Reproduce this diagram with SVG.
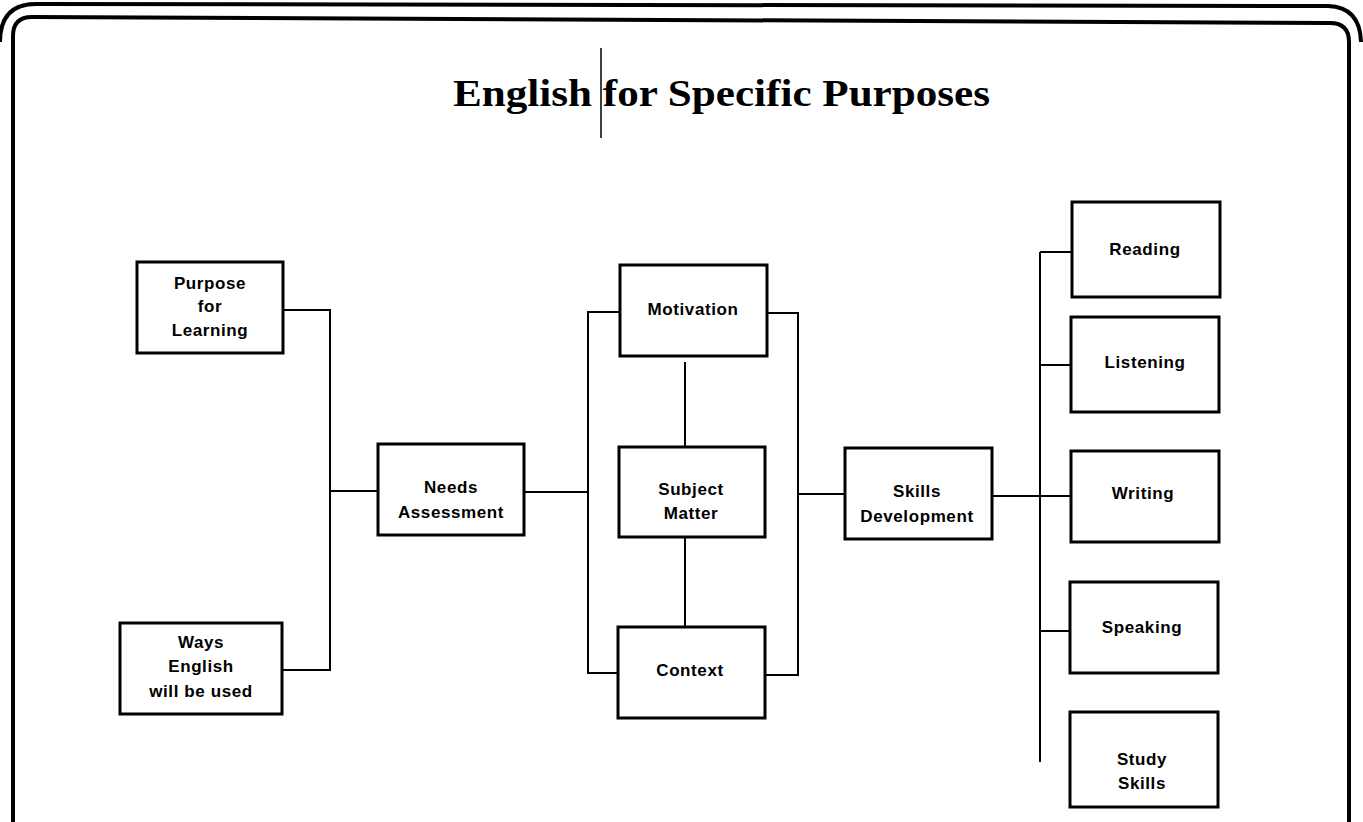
<svg xmlns="http://www.w3.org/2000/svg" width="1363" height="822" viewBox="0 0 1363 822">
<style>
.box{fill:#fff;stroke:#000;stroke-width:3}
.con{fill:none;stroke:#000;stroke-width:2}
.frame{fill:none;stroke:#000;stroke-width:4}
.lbl{font-family:"Liberation Sans",Arial,sans-serif;font-weight:bold;font-size:17px;letter-spacing:0.6px;text-anchor:middle;fill:#000}
.title{font-family:"Liberation Serif","Times New Roman",serif;font-weight:bold;font-size:38px;fill:#000}
</style>
<rect width="1363" height="822" fill="#fff"/>
<g id="frame">
<path class="frame" d="M0,42 Q0,4 36,4 L1328,6 Q1360,7 1361,42"/>
<path class="frame" d="M13,822 L13,36 Q13,17 32,17 L1330,23 Q1349,23 1349,42 L1349,822"/>
</g>
<g id="title">
<text class="title" x="453" y="106" textLength="537" lengthAdjust="spacingAndGlyphs">English for Specific Purposes</text>
<line x1="601" y1="48" x2="601" y2="138" stroke="#000" stroke-width="1.5"/>
</g>
<g id="connectors">
<path class="con" d="M283,310 H330 V670 H282"/>
<path class="con" d="M330,491 H378"/>
<path class="con" d="M524,492 H588"/>
<path class="con" d="M620,312 H588 V673 H618"/>
<path class="con" d="M767,313 H798 V675 H765"/>
<path class="con" d="M798,494 H845"/>
<path class="con" d="M685,362 V447"/>
<path class="con" d="M685,537 V627"/>
<path class="con" d="M993,496 H1040"/>
<path class="con" d="M1040,252 V762"/>
<path class="con" d="M1040,252 H1072"/>
<path class="con" d="M1040,365 H1071"/>
<path class="con" d="M1040,496 H1071"/>
<path class="con" d="M1040,631 H1070"/>
</g>
<g id="purpose">
<rect class="box" x="137" y="262" width="146" height="91"/>
<text class="lbl" x="210" y="289">Purpose</text>
<text class="lbl" x="210" y="312">for</text>
<text class="lbl" x="210" y="336">Learning</text>
</g>
<g id="ways">
<rect class="box" x="120" y="623" width="162" height="91"/>
<text class="lbl" x="201" y="648">Ways</text>
<text class="lbl" x="201" y="672">English</text>
<text class="lbl" x="201" y="697">will be used</text>
</g>
<g id="needs">
<rect class="box" x="378" y="444" width="146" height="91"/>
<text class="lbl" x="451" y="493">Needs</text>
<text class="lbl" x="451" y="518">Assessment</text>
</g>
<g id="motivation">
<rect class="box" x="620" y="265" width="147" height="91"/>
<text class="lbl" x="693" y="315">Motivation</text>
</g>
<g id="subject">
<rect class="box" x="619" y="447" width="146" height="90"/>
<text class="lbl" x="691" y="495">Subject</text>
<text class="lbl" x="691" y="519">Matter</text>
</g>
<g id="context">
<rect class="box" x="618" y="627" width="147" height="91"/>
<text class="lbl" x="690" y="676">Context</text>
</g>
<g id="skills">
<rect class="box" x="845" y="448" width="147" height="91"/>
<text class="lbl" x="917" y="497">Skills</text>
<text class="lbl" x="917" y="522">Development</text>
</g>
<g id="reading">
<rect class="box" x="1072" y="202" width="148" height="95"/>
<text class="lbl" x="1145" y="255">Reading</text>
</g>
<g id="listening">
<rect class="box" x="1071" y="317" width="148" height="95"/>
<text class="lbl" x="1145" y="368">Listening</text>
</g>
<g id="writing">
<rect class="box" x="1071" y="451" width="148" height="91"/>
<text class="lbl" x="1143" y="499">Writing</text>
</g>
<g id="speaking">
<rect class="box" x="1070" y="582" width="148" height="91"/>
<text class="lbl" x="1142" y="633">Speaking</text>
</g>
<g id="study">
<rect class="box" x="1070" y="712" width="148" height="95"/>
<text class="lbl" x="1142" y="765">Study</text>
<text class="lbl" x="1142" y="789">Skills</text>
</g>
</svg>
